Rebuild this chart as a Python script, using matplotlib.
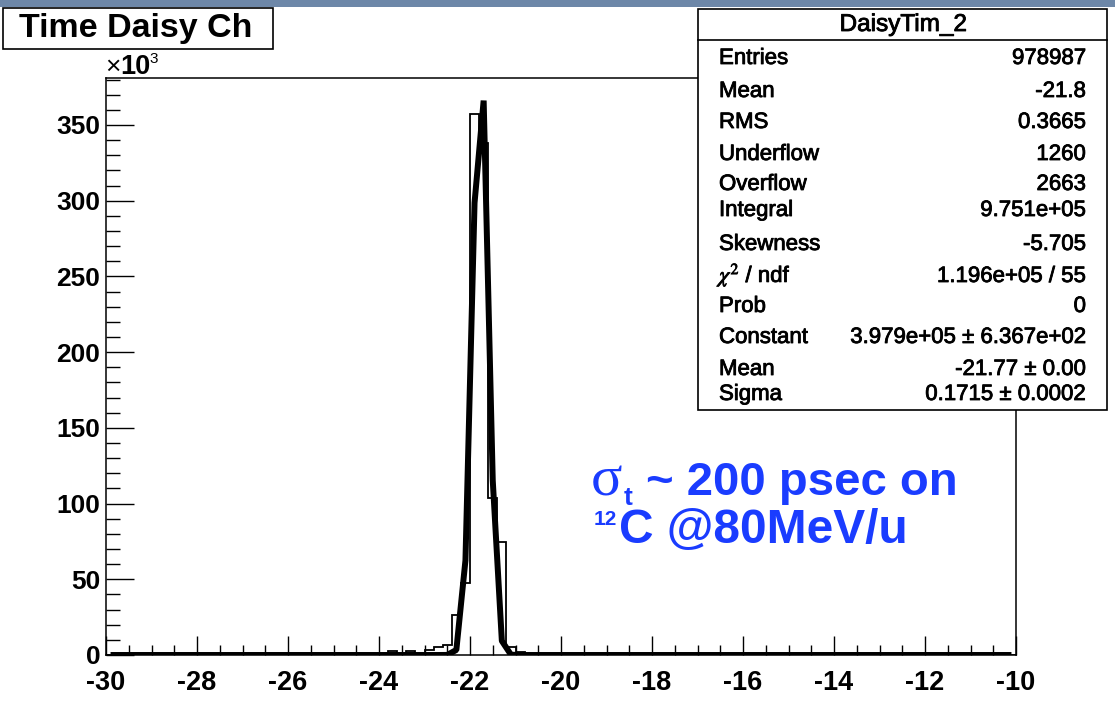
import numpy as np
import matplotlib
matplotlib.use("Agg")
import matplotlib.pyplot as plt
import matplotlib.patheffects as pe
from matplotlib.patches import Rectangle
from matplotlib.lines import Line2D
from matplotlib.ticker import MultipleLocator, FuncFormatter

# ---- histogram DaisyTim_2: 100 bins of 0.2 ns between -30 and -10 (only filled bins listed)
x_min, x_max, bin_width = -30.0, -10.0, 0.2
filled_bin_low = [-23.8, -23.6, -23.4, -23.2, -23.0, -22.8, -22.6, -22.4,
                  -22.2, -22.0, -21.8, -21.6, -21.4, -21.2, -21.0]
filled_counts = [2500, 500, 2500, 500, 3500, 5000, 6500, 26400,
                 47500, 357000, 338000, 103500, 74700, 5000, 2000]

# ---- gaussian fit parameters
fit_constant = 3.979e5
fit_mean = -21.77
fit_sigma = 0.1715

# ---- statistics box
stats_title = "DaisyTim_2"
stat_labels = ["Entries", "Mean", "RMS", "Underflow", "Overflow", "Integral",
               "Skewness", r"$\chi^{2}$ / ndf", "Prob", "Constant", "Mean", "Sigma"]
stat_values = ["978987", "-21.8", "0.3665", "1260", "2663", "9.751e+05",
               "-5.705", "1.196e+05 / 55", "0", "3.979e+05 \u00b1 6.367e+02",
               "-21.77 \u00b1 0.00", "0.1715 \u00b1 0.0002"]

hist_title = "Time Daisy Ch"
x_ticks = [-30, -28, -26, -24, -22, -20, -18, -16, -14, -12, -10]

W, H = 1115, 716
plt.rcParams["axes.unicode_minus"] = False
plt.rcParams["font.family"] = ["Liberation Sans", "DejaVu Sans"]
plt.rcParams["mathtext.fontset"] = "stix"

fig = plt.figure(figsize=(W / 100, H / 100), dpi=100)
fig.patch.set_facecolor("white")


def fx(px):
    return px / W


def fy(py):
    return 1 - py / H


# slightly heavier strokes for the statistics text
heavy = [pe.withStroke(linewidth=0.6, foreground="black")]

# header band at the very top
fig.patches.append(Rectangle((0, fy(7)), 1, 7 / H, transform=fig.transFigure,
                             facecolor="#6d87a8", edgecolor="none", zorder=0))

ax = fig.add_axes([fx(106), fy(655), (1016 - 106) / W, (655 - 78) / H])

edges = np.linspace(x_min, x_max, int(round((x_max - x_min) / bin_width)) + 1)
counts = np.zeros(len(edges) - 1)
for lo, c in zip(filled_bin_low, filled_counts):
    counts[int(round((lo - x_min) / bin_width))] = c
centers = 0.5 * (edges[:-1] + edges[1:])

ax.stairs(counts, edges, color="black", linewidth=1.3, zorder=2)

fit_curve = fit_constant * np.exp(-0.5 * ((centers - fit_mean) / fit_sigma) ** 2)
ax.plot(centers, fit_curve, color="black", linewidth=4.3,
        solid_joinstyle="bevel", solid_capstyle="butt", zorder=3)

ax.set_xlim(x_min, x_max)
ax.set_ylim(0, 381000)

ax.set_xticks(x_ticks)
ax.xaxis.set_minor_locator(MultipleLocator(0.5))
ax.yaxis.set_major_locator(MultipleLocator(50000))
ax.yaxis.set_minor_locator(MultipleLocator(10000))
ax.xaxis.set_major_formatter(FuncFormatter(lambda v, p: f"{v:.0f}"))
ax.yaxis.set_major_formatter(FuncFormatter(lambda v, p: f"{v / 1000:.0f}"))

for s in ax.spines.values():
    s.set_linewidth(1.1)
ax.tick_params(axis="x", which="major", direction="in", length=13.5, width=1.0,
               pad=10.5, labelsize=19.5)
ax.tick_params(axis="x", which="minor", direction="in", length=7, width=1.0)
ax.tick_params(axis="y", which="major", direction="in", length=20, width=1.0,
               pad=4, labelsize=19)
ax.tick_params(axis="y", which="minor", direction="in", length=10, width=1.0)
for lab in ax.get_xticklabels() + ax.get_yticklabels():
    lab.set_fontweight("bold")

# exponent marker of the y axis
fig.text(fx(105), fy(74), "\u00d7", fontsize=19, ha="left", va="baseline")
fig.text(fx(120), fy(74), "10", fontsize=19.5, fontweight="bold", ha="left", va="baseline")
fig.text(fx(149), fy(63), "3", fontsize=11, ha="left", va="baseline")

# title box
fig.patches.append(Rectangle((fx(3), fy(49)), (273 - 3) / W, (49 - 8) / H,
                             transform=fig.transFigure, facecolor="white",
                             edgecolor="black", linewidth=1.2, zorder=5))
fig.text(fx(19), fy(37), hist_title, fontsize=24.5, fontweight="bold",
         ha="left", va="baseline", zorder=6)

# statistics box
fig.patches.append(Rectangle((fx(698), fy(410)), (1107 - 698) / W, (410 - 9) / H,
                             transform=fig.transFigure, facecolor="white",
                             edgecolor="black", linewidth=1.2, zorder=5))
fig.lines.append(Line2D([fx(698), fx(1107)], [fy(40), fy(40)], transform=fig.transFigure,
                        color="black", linewidth=1.2, zorder=6))
fig.text(fx(903), fy(31), stats_title, fontsize=17.5, ha="center", va="baseline",
         zorder=6, path_effects=heavy)
row_baselines = [64, 97, 128, 160, 190, 216, 250, 282, 312, 343, 375, 400]
for lab, val, yb in zip(stat_labels, stat_values, row_baselines):
    fig.text(fx(719), fy(yb), lab, fontsize=16, ha="left", va="baseline", zorder=6,
             path_effects=heavy)
    fig.text(fx(1086), fy(yb), val, fontsize=16, ha="right", va="baseline", zorder=6,
             path_effects=heavy)

# annotation
blue = "#1a3cff"
fig.text(fx(591), fy(495), "\u03c3", fontsize=42, family="Liberation Serif",
         color=blue, ha="left", va="baseline")
fig.text(fx(624), fy(505), "t", fontsize=19, fontweight="bold", color=blue,
         ha="left", va="baseline")
fig.text(fx(646), fy(495), "~ 200 psec on", fontsize=34, fontweight="bold",
         color=blue, ha="left", va="baseline")
fig.text(fx(594), fy(525), "12", fontsize=15, fontweight="bold", color=blue,
         ha="left", va="baseline")
fig.text(fx(619), fy(543), "C @80MeV/u", fontsize=34.5, fontweight="bold",
         color=blue, ha="left", va="baseline")

fig.savefig("out.png", dpi=100, facecolor="white")
